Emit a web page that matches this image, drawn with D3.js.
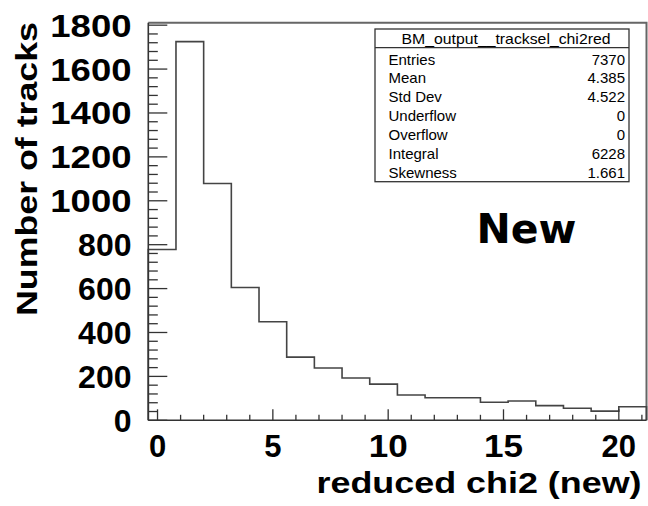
<!DOCTYPE html>
<html>
<head>
<meta charset="utf-8">
<script src="https://cdn.jsdelivr.net/npm/d3@7"></script>
<style>
  body { margin: 0; background: #fff; }
  svg { display: block; }
</style>
</head>
<body>
<script>
// histogram: 18 bins of width 1.2 starting at -0.4
var binStart = -0.4;
var binWidth = 1.2;
var counts = [778, 1725, 1079, 605, 449, 288, 238, 193, 165, 115, 103, 103, 82, 88, 67, 55, 42, 62];

var xTicks = [0, 5, 10, 15, 20];
var yTicks = [0, 200, 400, 600, 800, 1000, 1200, 1400, 1600, 1800];

var statsTitle = "BM_output__tracksel_chi2red";
var statsNames = ["Entries", "Mean", "Std Dev", "Underflow", "Overflow", "Integral", "Skewness"];
var statsValues = ["7370", "4.385", "4.522", "0", "0", "6228", "1.661"];

var width = 648, height = 506;
var frame = {left: 148.3, right: 646.5, top: 22.7, bottom: 420.3};

var svg = d3.select("body").append("svg")
    .attr("width", width)
    .attr("height", height);

var xMax = binStart + binWidth * counts.length;
var x = d3.scaleLinear()
    .domain([binStart, xMax])
    .range([frame.left, frame.right]);
var y = d3.scaleLinear()
    .domain([0, d3.max(counts) * 1.05])
    .range([frame.bottom, frame.top]);

var axisColor = "#333";
var frameColor = "#666";

// frame (top / right)
svg.append("path")
    .attr("d", "M" + frame.left + "," + frame.top + "H" + frame.right + "V" + frame.bottom)
    .attr("fill", "none")
    .attr("stroke", frameColor)
    .attr("stroke-width", 2);

// histogram outline
var pts = [[x(binStart), y(0)]];
counts.forEach(function (c, i) {
    var x0 = x(binStart + i * binWidth), x1 = x(binStart + (i + 1) * binWidth);
    pts.push([x0, y(c)]);
    pts.push([x1, y(c)]);
});
pts.push([x(xMax), y(0)]);
svg.append("path")
    .attr("d", d3.line()(pts))
    .attr("fill", "none")
    .attr("stroke", "#444")
    .attr("stroke-width", 1.6);

// y axis ticks
var yMinor = d3.range(0, 1801, 40);
svg.append("g").selectAll("line")
    .data(yMinor)
    .enter().append("line")
    .attr("x1", frame.left)
    .attr("x2", d => frame.left + (d % 200 == 0 ? 19 : 9.5))
    .attr("y1", d => y(d))
    .attr("y2", d => y(d))
    .attr("stroke", axisColor)
    .attr("stroke-width", 1.3);

// x axis ticks
var xMinor = d3.range(0, 22, 1).filter(d => d <= xMax);
svg.append("g").selectAll("line")
    .data(xMinor)
    .enter().append("line")
    .attr("x1", d => x(d))
    .attr("x2", d => x(d))
    .attr("y1", frame.bottom)
    .attr("y2", d => frame.bottom - (d % 5 == 0 ? 11 : 5.5))
    .attr("stroke", axisColor)
    .attr("stroke-width", 1.3);

// axis lines
svg.append("line")
    .attr("x1", frame.left).attr("x2", frame.left)
    .attr("y1", frame.top).attr("y2", frame.bottom)
    .attr("stroke", axisColor).attr("stroke-width", 1.6);
svg.append("line")
    .attr("x1", frame.left).attr("x2", frame.right)
    .attr("y1", frame.bottom).attr("y2", frame.bottom)
    .attr("stroke", axisColor).attr("stroke-width", 1.6);

var labelFont = "'Liberation Sans', Arial, Helvetica, sans-serif";

// the reference font has a much wider "1": stretch labels that start with it
function widenOnes(sel, extra) {
    sel.each(function (d) {
        var s = String(d);
        if (s[0] == "1") {
            var w = this.getComputedTextLength();
            d3.select(this)
                .attr("textLength", w + extra)
                .attr("lengthAdjust", "spacingAndGlyphs");
        }
    });
}

// tick labels
svg.append("g").selectAll("text")
    .data(yTicks)
    .enter().append("text")
    .attr("x", 131.5)
    .attr("y", d => y(d) + 11.5)
    .attr("text-anchor", "end")
    .attr("font-family", labelFont)
    .attr("font-weight", "bold")
    .attr("font-size", "32px")
    .text(String)
    .call(widenOnes, 10);

svg.append("g").selectAll("text")
    .data(xTicks)
    .enter().append("text")
    .attr("x", d => x(d))
    .attr("y", 457)
    .attr("text-anchor", "middle")
    .attr("font-family", labelFont)
    .attr("font-weight", "bold")
    .attr("font-size", "31px")
    .text(String)
    .call(widenOnes, 4.5);

// axis titles
svg.append("text")
    .attr("x", 316.5)
    .attr("y", 492.5)
    .attr("textLength", 325)
    .attr("lengthAdjust", "spacingAndGlyphs")
    .attr("font-family", labelFont)
    .attr("font-weight", "bold")
    .attr("font-size", "30px")
    .text("reduced chi2 (new)");

svg.append("text")
    .attr("transform", "translate(37,316) rotate(-90)")
    .attr("textLength", 294)
    .attr("lengthAdjust", "spacingAndGlyphs")
    .attr("font-family", labelFont)
    .attr("font-weight", "bold")
    .attr("font-size", "30px")
    .text("Number of tracks");

// "New" label
svg.append("text")
    .attr("x", 476.5)
    .attr("y", 243.3)
    .attr("font-family", "'DejaVu Sans', Verdana, sans-serif")
    .attr("font-weight", "bold")
    .attr("font-size", "41px")
    .text("New");

// stats box
var box = {x: 375, y: 29, w: 254, h: 152.7, head: 18.7};
var stats = svg.append("g");
stats.append("rect")
    .attr("x", box.x).attr("y", box.y)
    .attr("width", box.w).attr("height", box.h)
    .attr("fill", "#fff")
    .attr("stroke", "#333")
    .attr("stroke-width", 1.3);
stats.append("line")
    .attr("x1", box.x).attr("x2", box.x + box.w)
    .attr("y1", box.y + box.head).attr("y2", box.y + box.head)
    .attr("stroke", "#333")
    .attr("stroke-width", 1.3);
stats.append("text")
    .attr("x", 401.5)
    .attr("y", box.y + 14.5)
    .attr("textLength", 209)
    .attr("lengthAdjust", "spacingAndGlyphs")
    .attr("font-family", labelFont)
    .attr("font-size", "15px")
    .text(statsTitle);

var rowY = d3.scaleLinear().domain([0, statsNames.length - 1]).range([64.5, 178]);
stats.selectAll(".sname")
    .data(statsNames)
    .enter().append("text")
    .attr("class", "sname")
    .attr("x", 388.5)
    .attr("y", (d, i) => rowY(i))
    .attr("font-family", labelFont)
    .attr("font-size", "15px")
    .text(String);
stats.selectAll(".sval")
    .data(statsValues)
    .enter().append("text")
    .attr("class", "sval")
    .attr("x", 625)
    .attr("y", (d, i) => rowY(i))
    .attr("text-anchor", "end")
    .attr("font-family", labelFont)
    .attr("font-size", "15px")
    .text(String);
</script>
</body>
</html>
